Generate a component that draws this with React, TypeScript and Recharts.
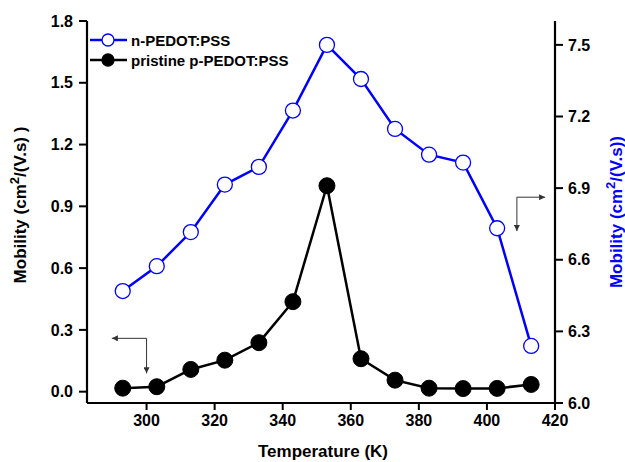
import React from 'react';
import { ComposedChart, Line, XAxis, YAxis, ReferenceLine } from 'recharts';

const temperatures = [293, 303, 313, 323, 333, 343, 353, 363, 373, 383, 393, 403, 413];
const pristineP = [0.017, 0.024, 0.108, 0.153, 0.238, 0.437, 1.0, 0.16, 0.056, 0.017, 0.015, 0.016, 0.035];
const nPedot = [6.469, 6.573, 6.716, 6.915, 6.989, 7.225, 7.5, 7.357, 7.148, 7.04, 7.007, 6.732, 6.239];
const xTicks = [300, 320, 340, 360, 380, 400, 420];
const leftTicks = [0, 0.3, 0.6, 0.9, 1.2, 1.5, 1.8];
const rightTicks = [6.0, 6.3, 6.6, 6.9, 7.2, 7.5];
const seriesNames = ['n-PEDOT:PSS', 'pristine p-PEDOT:PSS'];

const data = temperatures.map((t, i) => ({ t, p: pristineP[i], n: nPedot[i] }));

const FONT = '"Liberation Sans", Arial, sans-serif';
const tickStyle = { fontSize: 16, fontWeight: 'bold', fill: '#000', fontFamily: FONT };

const LeftTitle = () => (
  <text x={26} y={205} transform="rotate(-90, 26, 205)" textAnchor="middle" fontFamily={FONT} fontWeight="bold" fontSize={17} fill="#000">
    <tspan>Mobility (cm</tspan>
    <tspan dy={-7} fontSize={13}>2</tspan>
    <tspan dy={7}>/(V.s) )</tspan>
  </text>
);

const RightTitle = () => (
  <text x={622} y={212} transform="rotate(-90, 622, 212)" textAnchor="middle" fontFamily={FONT} fontWeight="bold" fontSize={17} fill="#0000FF">
    <tspan>Mobility (cm</tspan>
    <tspan dy={-7} fontSize={13}>2</tspan>
    <tspan dy={7}>/(V.s))</tspan>
  </text>
);

const arrowStyle = { stroke: '#333', strokeWidth: 1, markerEnd: 'url(#arrowHead)' };

export default function App() {
  return (
    <div style={{ position: 'absolute', left: 0, top: 0, width: 625, height: 462, background: '#fff' }}>
      <svg width={0} height={0} style={{ position: 'absolute' }}>
        <defs>
          <marker id="arrowHead" viewBox="0 0 10 10" refX="10" refY="5" markerWidth="9" markerHeight="6" orient="auto" markerUnits="userSpaceOnUse">
            <path d="M0,0 L10,5 L0,10 z" fill="#333" />
          </marker>
        </defs>
      </svg>
      <ComposedChart width={625} height={462} data={data} margin={{ top: 21, right: 0, bottom: 0, left: 0 }}>
        <XAxis
          dataKey="t"
          type="number"
          domain={[282.5, 420]}
          ticks={xTicks}
          allowDataOverflow
          height={59}
          tickSize={7}
          tickMargin={5}
          tick={tickStyle}
          axisLine={{ stroke: '#000', strokeWidth: 2.2 }}
          tickLine={{ stroke: '#000', strokeWidth: 2 }}
          label={{ content: () => (
            <text x={323} y={457} textAnchor="middle" fontFamily={FONT} fontWeight="bold" fontSize={17} fill="#000">Temperature (K)</text>
          ) }}
        />
        <XAxis
          xAxisId="top"
          dataKey="t"
          type="number"
          orientation="top"
          domain={[282.5, 420]}
          height={0}
          tick={false}
          tickLine={false}
          axisLine={{ stroke: '#000', strokeWidth: 2.2 }}
        />
        <YAxis
          yAxisId="left"
          domain={[-0.055, 1.8]}
          ticks={leftTicks}
          allowDataOverflow
          width={87}
          tickSize={8}
          tickMargin={6}
          tick={tickStyle}
          tickFormatter={(v: number) => v.toFixed(1)}
          axisLine={{ stroke: '#000', strokeWidth: 2.2 }}
          tickLine={{ stroke: '#000', strokeWidth: 2 }}
          label={{ content: () => <LeftTitle /> }}
        />
        <YAxis
          yAxisId="right"
          orientation="right"
          domain={[6.0, 7.6]}
          ticks={rightTicks}
          allowDataOverflow
          width={70}
          tickSize={8}
          tickMargin={5}
          tick={tickStyle}
          tickFormatter={(v: number) => v.toFixed(1)}
          axisLine={{ stroke: '#000', strokeWidth: 2.2 }}
          tickLine={{ stroke: '#000', strokeWidth: 2 }}
          label={{ content: () => <RightTitle /> }}
        />
        <ReferenceLine yAxisId="left" segment={[{ x: 300, y: 0.259 }, { x: 289.8, y: 0.259 }]} {...arrowStyle} />
        <ReferenceLine yAxisId="left" segment={[{ x: 300, y: 0.259 }, { x: 300, y: 0.089 }]} {...arrowStyle} />
        <ReferenceLine yAxisId="right" segment={[{ x: 408.8, y: 6.862 }, { x: 417.1, y: 6.862 }]} {...arrowStyle} />
        <ReferenceLine yAxisId="right" segment={[{ x: 408.8, y: 6.862 }, { x: 408.8, y: 6.72 }]} {...arrowStyle} />
        <Line
          yAxisId="right"
          dataKey="n"
          name={seriesNames[0]}
          stroke="#0000FF"
          strokeWidth={2.5}
          dot={{ r: 7.5, fill: '#fff', stroke: '#0000FF', strokeWidth: 1.3 }}
          isAnimationActive={false}
        />
        <Line
          yAxisId="left"
          dataKey="p"
          name={seriesNames[1]}
          stroke="#000"
          strokeWidth={2.5}
          dot={{ r: 8, fill: '#000', stroke: '#000', strokeWidth: 1 }}
          isAnimationActive={false}
        />
      </ComposedChart>
      <div style={{ position: 'absolute', left: 89, top: 30, fontFamily: FONT, fontWeight: 'bold', fontSize: 15 }}>
        {seriesNames.map((name, i) => (
          <div key={name} style={{ display: 'flex', alignItems: 'center', height: 20 }}>
            <svg width={40} height={20}>
              <line x1={1} y1={10} x2={38} y2={10} stroke={i === 0 ? '#0000FF' : '#000'} strokeWidth={2.5} />
              <circle cx={19} cy={10} r={6} fill={i === 0 ? '#fff' : '#000'} stroke={i === 0 ? '#0000FF' : '#000'} strokeWidth={1.3} />
            </svg>
            <span style={{ marginLeft: 2, color: '#000' }}>{name}</span>
          </div>
        ))}
      </div>
    </div>
  );
}
